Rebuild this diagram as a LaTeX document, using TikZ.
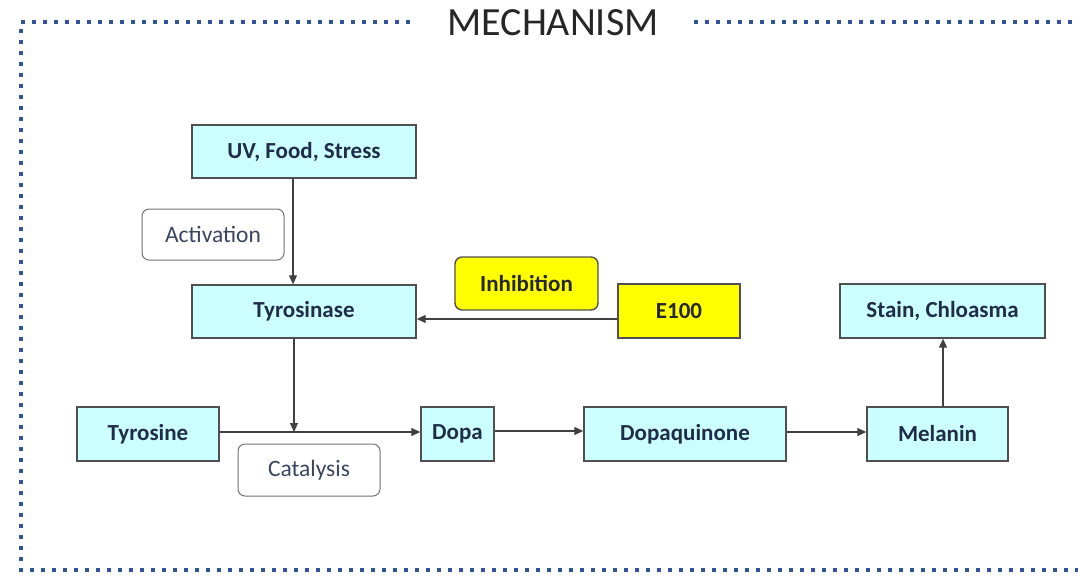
\documentclass[tikz,border=0pt]{standalone}
\usepackage{fontspec}
\setmainfont{Carlito}
\usetikzlibrary{arrows.meta}
\definecolor{boxfill}{HTML}{CCFFFF}
\definecolor{boxline}{HTML}{505050}
\definecolor{txt}{HTML}{1F2D4A}
\definecolor{lbltxt}{HTML}{3A4660}
\definecolor{frameblue}{HTML}{2F5597}
\definecolor{yel}{HTML}{FFFF00}
\begin{document}
\begin{tikzpicture}[x=1pt,y=-1pt,
  stepbox/.style={draw=boxline,line width=1.4pt,fill=boxfill,text=txt,font=\fontsize{23}{26}\selectfont\bfseries,inner sep=0pt},
  yelbox/.style={stepbox,fill=yel,text=black!85},
  lblbox/.style={draw=boxline!80,line width=1pt,rounded corners=7pt,fill=white,text=lbltxt,font=\fontsize{23.5}{26}\selectfont,inner sep=0pt},
  conn/.style={draw=black!75,line width=1.2pt,-{Triangle[length=9pt,width=8pt]}},
  frame/.style={draw=frameblue,line width=4pt,dash pattern=on 4pt off 7pt}]
\useasboundingbox (0,0) rectangle (1078,576);
% frame
\draw[frame] (410,22) -- (21,22) -- (21,570) -- (1078,570);
\draw[frame] (694,22) -- (1078,22);
\node[font=\fontsize{40}{44}\selectfont,text=black!85] (title) at (553,23) {MECHANISM};
% nodes
\node[stepbox,minimum width=224pt,minimum height=53pt] (uv) at (304,151.5) {UV, Food, Stress};
\node[lblbox,minimum width=142pt,minimum height=51pt] (act) at (213,234.5) {Activation};
\node[stepbox,minimum width=224pt,minimum height=53pt] (tyr) at (304,311.5) {Tyrosinase};
\node[yelbox,rounded corners=7pt,minimum width=143pt,minimum height=53pt] (inh) at (526.5,283.5) {Inhibition};
\node[yelbox,minimum width=122pt,minimum height=54pt] (e100) at (679,311) {E100};
\node[stepbox,minimum width=205pt,minimum height=54pt] (stain) at (942.5,311) {Stain, Chloasma};
\node[stepbox,minimum width=142pt,minimum height=54pt] (tyrosine) at (148,434) {Tyrosine};
\node[lblbox,minimum width=142pt,minimum height=52pt] (cat) at (309,470) {Catalysis};
\node[stepbox,minimum width=73pt,minimum height=54pt] (dopa) at (457.5,434) {Dopa};
\node[stepbox,minimum width=202pt,minimum height=54pt] (dq) at (685,434) {Dopaquinone};
\node[stepbox,minimum width=141pt,minimum height=54pt] (mel) at (937.5,434) {Melanin};
% connectors
\coordinate (j) at (294,432);
\draw[conn] (uv.south -| 293,0) -- (tyr.north -| 293,0);
\draw[conn] (tyr.south -| j) -- (j);
\draw[conn] (tyrosine.east |- j) -- (dopa.west |- j);
\draw[conn] (e100.west |- 0,319) -- (tyr.east |- 0,319);
\draw[conn] (dopa.east |- 0,431) -- (dq.west |- 0,431);
\draw[conn] (dq.east |- 0,432) -- (mel.west |- 0,432);
\draw[conn] (mel.north -| 943,0) -- (stain.south -| 943,0);
\end{tikzpicture}
\end{document}
